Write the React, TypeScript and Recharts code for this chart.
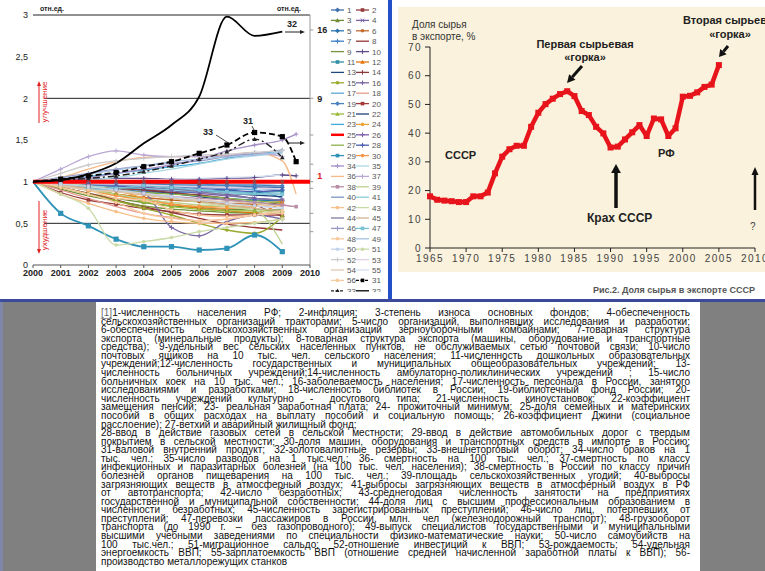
import React from "react";
import { LineChart, Line, XAxis, YAxis, ReferenceLine } from "recharts";

// ── Left chart: indicators, 2000 = 1 (отн. ед.) ─────────────────────

const leftYears = [2000, 2001, 2002, 2003, 2004, 2005, 2006, 2007, 2008, 2009, 2009.5, 2010];
const leftTickYears = [2000, 2001, 2002, 2003, 2004, 2005, 2006, 2007, 2008, 2009, 2010];
const leftTicks = [0, 0.5, 1, 1.5, 2, 2.5, 3];
const rightTicks = [0.4, 0.62, 0.92, 1, 1.21, 1.56, 2, 2.82];
const rightTickLabels: Record<string, string> = { "1": "1", "2": "9", "2.82": "16" };

const s01 = [1, 0.99, 0.98, 0.98, 0.97, 0.96, 0.95, 0.95, 0.94, 0.93];
const s02 = [1, 0.87, 0.78, 0.73, 0.68, 0.64, 0.61, 0.6, 0.6, 0.6];
const s03 = [1, 0.93, 0.86, 0.8, 0.75, 0.71, 0.69, 0.67, 0.66, 0.66];
const s04 = [1, 0.98, 0.96, 0.94, 0.91, 0.89, 0.86, 0.83, 0.8, 0.78];
const s05 = [1, 0.97, 0.94, 0.91, 0.88, 0.86, 0.83, 0.8, 0.78, 0.77];
const s06 = [1, 0.95, 0.9, 0.85, 0.81, 0.78, 0.76, 0.74, 0.73, 0.75];
const s07 = [1, 0.96, 0.93, 0.9, 0.88, 0.87, 0.88, 0.9, 0.92, 0.9];
const s08 = [1, 0.93, 0.86, 0.78, 0.7, 0.63, 0.56, 0.49, 0.45, 0.42];
const s09 = [1, 0.91, 0.83, 0.77, 0.71, 0.67, 0.65, 0.63, 0.62, 0.62];
const s10 = [1, 1.02, 1.03, 1.04, 1.04, 1.03, 1.03, 1.04, 1.05, 1.08, 1.07];
const s11 = [1, 0.97, 0.95, 0.94, 0.93, 0.91, 0.9, 0.88, 0.87, 0.88];
const s12 = [1, 0.95, 0.9, 0.85, 0.8, 0.73, 0.68, 0.65, 0.63, 0.75];
const s13 = [1, 0.98, 0.96, 0.93, 0.9, 0.86, 0.82, 0.78, 0.75, 0.72];
const s14 = [1, 0.97, 0.95, 0.92, 0.9, 0.87, 0.84, 0.8, 0.72, 0.58];
const s15 = [1, 0.93, 0.85, 0.77, 0.68, 0.6, 0.5, 0.42, 0.38, 0.58];
const s16 = [1, 0.97, 0.95, 0.9, 0.86, 0.45, 0.35, 0.52, 0.6, 0.55];
const s17 = [1, 0.99, 0.98, 0.97, 0.96, 0.95, 0.94, 0.92, 0.9, 0.8];
const s18 = [1, 0.9, 0.8, 0.7, 0.62, 0.57, 0.53, 0.55, 0.6, 0.64];
const s19 = [1, 1, 0.99, 0.98, 0.98, 0.97, 0.97, 0.96, 0.96, 0.95];
const s20 = [1, 0.99, 0.99, 1, 1, 0.99, 0.98, 0.99, 1, 1];
const s21 = [1, 0.95, 0.91, 0.85, 0.76, 0.7, 0.67, 0.65, 0.65, 0.65];
const s22 = [1, 0.98, 0.96, 0.94, 0.92, 0.9, 0.88, 0.86, 0.84, 0.82];
const s23 = [1, 1.02, 1.06, 1.1, 1.14, 1.18, 1.22, 1.28, 1.33, 1.37];
const s24 = [1, 0.98, 0.95, 0.9, 0.8, 0.73, 0.7, 0.7, 0.72, 0.77];
const s25 = [1, 1, 1, 1, 1, 1, 1, 1, 1, 1, 1, 1];
const s26 = [1, 0.98, 0.97, 0.95, 0.93, 0.9, 0.88, 0.85, 0.8, 0.78];
const s27 = [1, 0.97, 0.94, 0.9, 0.87, 0.85, 0.83, 0.8, 0.77, 0.75];
const s28 = [1, 0.98, 0.96, 0.95, 0.95, 0.94, 0.92, 0.9, 0.88, 0.9];
const s29 = [1, 0.62, 0.47, 0.31, 0.22, 0.22, 0.18, 0.2, 0.36, 0.16];
const s30 = [1, 0.97, 0.9, 0.83, 0.78, 0.73, 0.7, 0.68, 0.7, 0.72];
const s31 = [1, 1.03, 1.07, 1.11, 1.18, 1.24, 1.34, 1.44, 1.59, 1.54, 1.24];
const s32 = [1, 1.02, 1.09, 1.22, 1.46, 1.68, 2.02, 2.98, 2.75, 2.8];
const s33 = [1, 1.02, 1.04, 1.07, 1.12, 1.19, 1.27, 1.36, 1.51, 1.29];
const s34 = [1, 1.02, 1.05, 1.1, 1.15, 1.2, 1.27, 1.37, 1.44, 1.5, 1.57];
const s35 = [1, 1, 1.02, 1.05, 1.1, 1.15, 1.21, 1.27, 1.31, 1.34];
const s36 = [1, 1.05, 1.15, 1.24, 1.29, 1.3, 1.3, 1.32, 1.35, 1.25, 0.85];
const s37 = [1, 1.15, 1.3, 1.37, 1.32, 1.3, 1.3, 1.31, 1.35, 1.3];
const s38 = [1, 0.98, 0.95, 0.9, 0.86, 0.82, 0.8, 0.78, 0.75, 0.72, 0.7];
const s39 = [1, 0.96, 0.9, 0.85, 0.79, 0.75, 0.72, 0.7, 0.66, 0.25];
const s40 = [1, 0.98, 0.97, 0.96, 0.95, 0.94, 0.93, 0.92, 0.93, 0.95];
const s41 = [1, 0.97, 0.95, 0.93, 0.92, 0.9, 0.88, 0.86, 0.85, 0.85];
const s42 = [1, 0.85, 0.74, 0.64, 0.56, 0.52, 0.5, 0.5, 0.51, 0.55];
const s43 = [1, 0.98, 0.95, 0.9, 0.85, 0.8, 0.75, 0.7, 0.66, 0.62];
const s44 = [1, 1, 0.99, 0.98, 0.96, 0.92, 0.88, 0.84, 0.8, 0.78];
const s45 = [1, 0.96, 0.92, 0.88, 0.84, 0.8, 0.76, 0.72, 0.68, 0.65];
const s46 = [1, 1.05, 1.1, 1.15, 1.19, 1.22, 1.25, 1.3, 1.34, 1.38];
const s47 = [1, 0.95, 0.91, 0.92, 0.95, 0.93, 0.9, 0.88, 0.86, 0.85];
const s48 = [1, 0.95, 0.9, 0.8, 0.78, 0.66, 0.6, 0.58, 0.6, 0.62];
const s49 = [1, 1.04, 1.09, 1.14, 1.19, 1.24, 1.27, 1.3, 1.32, 1.35];
const s50 = [1, 0.97, 0.94, 0.9, 0.86, 0.82, 0.78, 0.74, 0.71, 0.68];
const s51 = [1, 0.85, 0.68, 0.24, 0.28, 0.33, 0.4, 0.45, 0.5, 0.55];
const s52 = [1, 1.1, 1.2, 1.25, 1.28, 1.3, 1.32, 1.33, 1.35, 1.37];
const s53 = [1, 0.99, 0.98, 0.97, 0.96, 0.95, 0.94, 0.93, 0.92, 0.91];
const s54 = [1, 0.95, 0.9, 0.88, 0.85, 0.8, 0.78, 0.76, 0.74, 0.7];
const s55 = [1, 1, 1, 1.01, 1.02, 1.03, 1.04, 1.05, 1.06, 1.08];
const s56 = [1, 0.93, 0.85, 0.75, 0.62, 0.56, 0.53, 0.55, 0.6, 0.65];

const seriesValues: Record<number, number[]> = {
  1: s01, 2: s02, 3: s03, 4: s04, 5: s05, 6: s06, 7: s07, 8: s08, 9: s09, 10: s10,
  11: s11, 12: s12, 13: s13, 14: s14, 15: s15, 16: s16, 17: s17, 18: s18, 19: s19, 20: s20,
  21: s21, 22: s22, 23: s23, 24: s24, 25: s25, 26: s26, 27: s27, 28: s28, 29: s29, 30: s30,
  31: s31, 32: s32, 33: s33, 34: s34, 35: s35, 36: s36, 37: s37, 38: s38, 39: s39, 40: s40,
  41: s41, 42: s42, 43: s43, 44: s44, 45: s45, 46: s46, 47: s47, 48: s48, 49: s49, 50: s50,
  51: s51, 52: s52, 53: s53, 54: s54, 55: s55, 56: s56,
};

const legendRows = [
  [1, 2], [3, 4], [5, 6], [7, 8], [9, 10], [11, 12], [13, 14], [15, 16], [17, 18], [19, 20],
  [21, 22], [23, 24], [25, 26], [27, 28], [29, 30], [34, 35], [36, 37], [38, 39], [40, 41],
  [42, 43], [44, 45], [46, 47], [48, 49], [50, 51], [52, 53], [54, 55], [56, 31], [33, 32],
];

// ── Right chart: share of raw materials in exports, % ────────────────

const rawYears = [
  1965, 1966, 1967, 1968, 1969, 1970, 1971, 1972, 1973, 1974, 1975, 1976, 1977, 1978,
  1979, 1980, 1981, 1982, 1983, 1984, 1985, 1986, 1987, 1988, 1989, 1990, 1991, 1992,
  1993, 1994, 1995, 1996, 1997, 1998, 1999, 2000, 2001, 2002, 2003, 2004, 2005,
];
const rawShare = [
  18, 16.8, 16.5, 16.3, 16, 16, 18, 18, 19.3, 26, 31.8, 34.4, 35.6, 35.6,
  42.2, 47.1, 50.1, 52, 53.6, 54.6, 52.9, 47.7, 46.3, 42.2, 39.9, 35, 35.3, 37.8,
  40.3, 42.8, 39, 45.1, 44.8, 39, 41.7, 52.7, 53, 54.2, 56.1, 56.9, 63.7,
];
const rawXTicks = [1965, 1970, 1975, 1980, 1985, 1990, 1995, 2000, 2005, 2010];
const rawYTicks = [0, 10, 20, 30, 40, 50, 60, 70];

const footnoteLines = [
  "1-численность населения РФ; 2-инфляция; 3-степень износа основных фондов; 4-обеспеченность",
  "сельскохозяйственных организаций тракторами; 5-число организаций, выполнявших исследования и разработки;",
  "6-обеспеченность сельскохозяйственных организаций зерноуборочными комбайнами; 7-товарная структура",
  "экспорта (минеральные продукты); 8-товарная структура экспорта (машины, оборудование и транспортные",
  "средства); 9-удельный вес сельских населенных пунктов, не обслуживаемых сетью почтовой связи; 10-число",
  "почтовых ящиков на 10 тыс. чел. сельского населения; 11-численность дошкольных образовательных",
  "учреждений;12-численность государственных и муниципальных общеобразовательных учреждений; 13-",
  "численность больничных учреждений;14-численность амбулаторно-поликлинических учреждений ; 15-число",
  "больничных коек на 10 тыс. чел.; 16-заболеваемость населения; 17-численность персонала в России, занятого",
  "исследованиями и разработками; 18-численность библиотек в России; 19-библиотечный фонд России; 20-",
  "численность учреждений культурно - досугового типа; 21-численность киноустановок; 22-коэффициент",
  "замещения пенсий; 23- реальная заработная плата; 24- прожиточный минимум; 25-доля семейных и материнских",
  "пособий в общих расходах на выплату пособий и социальную помощь; 26-коэффициент Джини (социальное",
  "расслоение); 27-ветхий и аварийный жилищный фонд;",
  "28-ввод в действие газовых сетей в сельской местности; 29-ввод в действие автомобильных дорог с твердым",
  "покрытием в сельской местности; 30-доля машин, оборудования и транспортных средств в импорте в Россию;",
  "31-валовой внутренний продукт; 32-золотовалютные резервы; 33-внешнеторговый оборот; 34-число браков на 1",
  "тыс. чел.; 35-число разводов на 1 тыс.чел.; 36- смертность на 100 тыс. чел.; 37-смертность по классу",
  "инфекционных и паразитарных болезней (на 100 тыс. чел. населения); 38-смертность в России по классу причин",
  "болезней органов пищеварения на 100 тыс. чел.; 39-площадь сельскохозяйственных угодий; 40-выбросы",
  "загрязняющих веществ в атмосферный воздух; 41-выбросы загрязняющих веществ в атмосферный воздух в РФ",
  "от автотранспорта; 42-число безработных; 43-среднегодовая численность занятости на предприятиях",
  "государственной и муниципальной собственности; 44-доля лиц с высшим профессиональным образованием в",
  "численности безработных; 45-численность зарегистрированных преступлений; 46-число лиц, потерпевших от",
  "преступлений; 47-перевозки пассажиров в России, млн. чел (железнодорожный транспорт); 48-грузооборот",
  "транспорта (до 1990 г. – без газопроводного); 49-выпуск специалистов государственными и муниципальными",
  "высшими учебными заведениями по специальности физико-математические науки; 50-число самоубийств на",
  "100 тыс.чел.; 51-миграционное сальдо; 52-отношение инвестиций к ВВП; 53-рождаемость; 54-удельная",
  "энергоемкость ВВП; 55-зарплатоемкость ВВП (отношение средней начисленной заработной платы к ВВП); 56-",
  "производство металлорежущих станков",
];
const shortLines = [13, 29];

// ── Styles ───────────────────────────────────────────────────────────

type Mark = "sq" | "dia" | "tri" | "circ" | "x" | "plus" | undefined;

const seriesStyle: Record<number, { color: string; mark?: Mark; width?: number; dash?: string }> = {
  1: { color: "#3f6faa", mark: "dia" }, 2: { color: "#963c3c", mark: "sq" },
  3: { color: "#6e8a35", mark: "tri" }, 4: { color: "#7a62a6", mark: "x" },
  5: { color: "#2b74b0", mark: "dia" }, 6: { color: "#c06a2b", mark: "circ" },
  7: { color: "#3d7fc4", mark: "plus" }, 8: { color: "#943634" },
  9: { color: "#77933c" }, 10: { color: "#5f4a8b", mark: "plus" },
  11: { color: "#2f8fa3", mark: "sq" }, 12: { color: "#e4760f", mark: "tri" },
  13: { color: "#1f497d" }, 14: { color: "#8b3a3a", mark: "plus" },
  15: { color: "#9aa82b", mark: "circ" }, 16: { color: "#7b68a6", mark: "plus" },
  17: { color: "#5aa7d3" }, 18: { color: "#e59a8e" },
  19: { color: "#4a7fbf", mark: "dia" }, 20: { color: "#a33a3a", mark: "sq" },
  21: { color: "#9bbb3a", mark: "tri" }, 22: { color: "#203f79" },
  23: { color: "#3fa9d9" }, 24: { color: "#eea33a", mark: "circ" },
  25: { color: "#ff0000", width: 4 }, 26: { color: "#7d5da8", mark: "plus" },
  27: { color: "#8db04a" }, 28: { color: "#4b5db3", mark: "plus" },
  29: { color: "#2f93b8", mark: "sq", width: 1.8 }, 30: { color: "#f79646", mark: "circ" },
  31: { color: "#000000", mark: "sq", width: 1.8, dash: "6 3" },
  32: { color: "#000000", width: 1.8 },
  33: { color: "#222222", mark: "tri", width: 1.4, dash: "7 3 2 3" },
  34: { color: "#a58fc7", mark: "plus" }, 35: { color: "#a9d8e3" },
  36: { color: "#f5b98a" }, 37: { color: "#b9a8d3", mark: "plus" },
  38: { color: "#b98ea6", mark: "sq" }, 39: { color: "#bcd08f" },
  40: { color: "#7c95c4" }, 41: { color: "#8ccbd8" },
  42: { color: "#f7c08a", mark: "circ" }, 43: { color: "#c9dba5" },
  44: { color: "#7f7aa3" }, 45: { color: "#d0b48f" },
  46: { color: "#9999c4", mark: "plus" }, 47: { color: "#7ac3d6", mark: "sq" },
  48: { color: "#f9c79b", mark: "circ" }, 49: { color: "#a7c1e3" },
  50: { color: "#c3d3ea", mark: "circ" }, 51: { color: "#cadba8", mark: "circ" },
  52: { color: "#cccccc", mark: "plus" }, 53: { color: "#dcd3e6" },
  54: { color: "#e0c9b3" }, 55: { color: "#d3e0f0" },
  56: { color: "#f7caa0", mark: "circ" },
};

const FONT = "'Liberation Sans', Arial, sans-serif";

const leftRows = leftYears.map((year, i) => {
  const row: Record<string, number | null> = { year };
  Object.keys(seriesValues).forEach((id) => {
    const v = seriesValues[Number(id)][i];
    row[`s${id}`] = v === undefined ? null : v;
  });
  return row;
});

const rawRows = rawYears.map((year, i) => ({ year, share: rawShare[i] }));

const drawOrder = [
  ...Object.keys(seriesValues).map(Number).filter((id) => ![25, 31, 32, 33].includes(id)),
  25, 33, 31, 32,
];

// ── Markers ──────────────────────────────────────────────────────────

function MarkShape({ kind, x, y, color, s = 1.8 }: { kind: Mark; x: number; y: number; color: string; s?: number }) {
  switch (kind) {
    case "sq":
      return <rect x={x - s} y={y - s} width={2 * s} height={2 * s} fill={color} />;
    case "dia":
      return <path d={`M${x},${y - s - 0.6}L${x + s + 0.6},${y}L${x},${y + s + 0.6}L${x - s - 0.6},${y}Z`} fill={color} />;
    case "tri":
      return <path d={`M${x},${y - s - 0.5}L${x + s + 0.5},${y + s}L${x - s - 0.5},${y + s}Z`} fill={color} />;
    case "circ":
      return <circle cx={x} cy={y} r={s} fill={color} />;
    case "x":
      return <path d={`M${x - s},${y - s}L${x + s},${y + s}M${x - s},${y + s}L${x + s},${y - s}`} stroke={color} strokeWidth={1} />;
    case "plus":
      return <path d={`M${x - s - 0.5},${y}L${x + s + 0.5},${y}M${x},${y - s - 0.5}L${x},${y + s + 0.5}`} stroke={color} strokeWidth={1} />;
    default:
      return null;
  }
}

function LegendItem({ id, x, y }: { id: number; x: number; y: number }) {
  const st = seriesStyle[id];
  return (
    <g>
      <line x1={x} y1={y} x2={x + 13} y2={y} stroke={st.color} strokeWidth={id === 25 ? 2.5 : 1.3} strokeDasharray={st.dash ? "3 1.5" : undefined} />
      <MarkShape kind={st.mark} x={x + 6.5} y={y} color={st.color} s={1.8} />
      <text x={x + 16} y={y + 3} fontSize={8} fill="#555" fontFamily={FONT}>{id}</text>
    </g>
  );
}

// ── Arrows for annotations ───────────────────────────────────────────

function FatArrow({ x1, y1, x2, y2, w = 3, head = 9 }: { x1: number; y1: number; x2: number; y2: number; w?: number; head?: number }) {
  const dx = x2 - x1;
  const dy = y2 - y1;
  const len = Math.hypot(dx, dy);
  const ux = dx / len;
  const uy = dy / len;
  const px = -uy;
  const py = ux;
  const bx = x2 - ux * head;
  const by = y2 - uy * head;
  const hw = w * 1.4;
  return (
    <g>
      <line x1={x1} y1={y1} x2={bx} y2={by} stroke="#111" strokeWidth={w} />
      <path d={`M${x2},${y2}L${bx + px * hw},${by + py * hw}L${bx - px * hw},${by - py * hw}Z`} fill="#111" />
    </g>
  );
}

// ── Component ────────────────────────────────────────────────────────

export default function App() {
  return (
    <div
      style={{
        position: "fixed",
        left: 0,
        top: 0,
        width: 765,
        height: 571,
        overflow: "hidden",
        background: "#ffffff",
        fontFamily: FONT,
      }}
    >
      {/* left chart */}
      <div style={{ position: "absolute", left: 0, top: 0 }}>
        <LineChart width={330} height={290} data={leftRows} margin={{ top: 15, right: 20, bottom: 5, left: 8 }}>
          <XAxis
            dataKey="year"
            type="number"
            domain={[2000, 2010]}
            ticks={leftTickYears}
            interval={0}
            height={20}
            stroke="#555"
            tickSize={3}
            tickMargin={2}
            tick={{ fontSize: 9, fill: "#222", fontWeight: 700, fontFamily: FONT }}
          />
          <YAxis
            yAxisId="l"
            type="number"
            domain={[0, 3]}
            ticks={leftTicks}
            interval={0}
            width={25}
            axisLine={false}
            tickLine={false}
            tickSize={3}
            tickMargin={2}
            tickFormatter={(v: number) => (v === 3 ? "" : String(v).replace(".", ","))}
            tick={{ fontSize: 9, fill: "#222", fontFamily: FONT }}
          />
          <ReferenceLine yAxisId="l" y={3} stroke="#222" strokeWidth={1} />
          <ReferenceLine yAxisId="l" segment={[{ x: 2000.4, y: 2 }, { x: 2010, y: 2 }]} stroke="#222" strokeWidth={1} />
          <ReferenceLine yAxisId="l" segment={[{ x: 2000.4, y: 0.5 }, { x: 2010, y: 0.5 }]} stroke="#222" strokeWidth={1} />
          {/* secondary (right) scale drawn on the 2010 edge */}
          <ReferenceLine yAxisId="l" x={2010} stroke="#999" strokeWidth={1} />
          {rightTicks.map((v) => (
            <ReferenceLine
              key={`rt${v}`}
              yAxisId="l"
              segment={[{ x: 2010, y: v }, { x: 2010.12, y: v }]}
              ifOverflow="visible"
              stroke="#999"
              strokeWidth={1}
              label={
                rightTickLabels[String(v)]
                  ? {
                      value: rightTickLabels[String(v)],
                      position: "right",
                      offset: 4,
                      dy: v === 1 ? -6 : 0,
                      fontSize: 9,
                      fontWeight: 700,
                      fill: v === 1 ? "#e02020" : "#222",
                      fontFamily: FONT,
                    }
                  : undefined
              }
            />
          ))}
          {drawOrder.map((id) => {
            const st = seriesStyle[id];
            return (
              <Line
                key={id}
                yAxisId="l"
                dataKey={`s${id}`}
                type={id === 25 ? "linear" : "monotone"}
                stroke={st.color}
                strokeWidth={st.width ?? 1.3}
                strokeDasharray={st.dash}
                isAnimationActive={false}
                connectNulls={false}
                dot={
                  st.mark
                    ? (p: any) =>
                        p.value == null || p.cx == null || p.index === 0 ? (
                          <g key={`d${id}-${p.index}`} />
                        ) : (
                          <g key={`d${id}-${p.index}`}>
                            <MarkShape kind={st.mark} x={p.cx} y={p.cy} color={st.color} s={id === 29 || id === 31 ? 2.6 : 1.8} />
                          </g>
                        )
                    : false
                }
                activeDot={false}
              />
            );
          })}
        </LineChart>
      </div>

      {/* left chart legend */}
      <svg style={{ position: "absolute", left: 0, top: 0 }} width={388} height={292}>
        {legendRows.map((pair, r) => (
          <g key={r}>
            <LegendItem id={pair[0]} x={331} y={10 + r * 10.4} />
            <LegendItem id={pair[1]} x={356} y={10 + r * 10.4} />
          </g>
        ))}
      </svg>

      {/* right chart panel */}
      <div style={{ position: "absolute", left: 398, top: 7, width: 367, height: 265, background: "#faf2dc" }}>
        <LineChart width={367} height={265} data={rawRows} margin={{ top: 40, right: 10, bottom: 0, left: 0 }}>
          <XAxis
            dataKey="year"
            type="number"
            domain={[1965, 2010]}
            ticks={rawXTicks}
            interval={0}
            height={24}
            stroke="#222"
            tickSize={4}
            tickMargin={3}
            tick={{ fontSize: 10, fill: "#444", letterSpacing: 1.5, fontFamily: FONT }}
          />
          <YAxis
            domain={[0, 70]}
            ticks={rawYTicks}
            interval={0}
            width={32}
            stroke="#222"
            tickSize={5}
            tickMargin={3}
            tick={{ fontSize: 10, fill: "#444", letterSpacing: 1.5, fontFamily: FONT }}
          />
          <Line
            dataKey="share"
            type="linear"
            stroke="#e8141c"
            strokeWidth={4.5}
            strokeLinejoin="round"
            isAnimationActive={false}
            dot={(p: any) => (
              <rect key={`r${p.index}`} x={p.cx - 3} y={p.cy - 3} width={6} height={6} fill="#e8141c" />
            )}
            activeDot={false}
          />
        </LineChart>
      </div>

      {/* annotations, frames */}
      <svg style={{ position: "absolute", left: 0, top: 0 }} width={765} height={571}>
        {/* left chart labels */}
        <text x={28} y={18} textAnchor="end" fontSize={9} fill="#222" fontFamily={FONT}>3</text>
        <text x={40} y={11} fontSize={7} fontWeight={700} fill="#222" fontFamily={FONT}>отн.ед.</text>
        <text x={277} y={11} fontSize={7} fontWeight={700} fill="#222" fontFamily={FONT}>отн.ед.</text>
        <line x1={39} y1={84} x2={39} y2={123} stroke="#e02020" strokeWidth={1} />
        <path d="M39,81L37,86L41,86Z" fill="#e02020" />
        <text transform="translate(47,102) rotate(-90)" textAnchor="middle" fontSize={8} fill="#e02020" fontFamily={FONT}>улучшение</text>
        <line x1={39} y1={201} x2={39} y2={251} stroke="#e02020" strokeWidth={1} />
        <path d="M39,254L37,249L41,249Z" fill="#e02020" />
        <text transform="translate(47,230) rotate(-90)" textAnchor="middle" fontSize={8} fill="#e02020" fontFamily={FONT}>ухудшение</text>
        <text x={287} y={27} fontSize={9} fontWeight={700} fill="#222" fontFamily={FONT}>32</text>
        <line x1={285} y1={32} x2={302} y2={32} stroke="#222" strokeWidth={1} />
        <path d="M305,32L300,30L300,34Z" fill="#222" />
        <text x={243} y={124} fontSize={9} fontWeight={700} fill="#222" fontFamily={FONT}>31</text>
        <line x1={252} y1={126} x2={255} y2={132} stroke="#222" strokeWidth={0.8} />
        <text x={203} y={135} fontSize={9} fontWeight={700} fill="#222" fontFamily={FONT}>33</text>
        <line x1={216} y1={135} x2={230} y2={144} stroke="#222" strokeWidth={0.8} />
        <line x1={289} y1={143} x2={302} y2={143} stroke="#222" strokeWidth={1} />
        <path d="M305,143L300,141L300,145Z" fill="#222" />

        {/* frame lines */}
        <rect x={388} y={0} width={4} height={299} fill="#2350c8" />

        {/* right chart labels */}
        <text x={412} y={28} fontSize={10} fill="#333" fontFamily={FONT}>Доля сырья</text>
        <text x={412} y={40} fontSize={10} fill="#333" fontFamily={FONT}>в экспорте, %</text>
        <text x={585} y={48} textAnchor="middle" fontSize={11} fontWeight={700} fill="#222" fontFamily={FONT}>Первая сырьевая</text>
        <text x={585} y={61} textAnchor="middle" fontSize={11} fontWeight={700} fill="#222" fontFamily={FONT}>«горка»</text>
        <FatArrow x1={582} y1={66} x2={567} y2={83} w={3} head={8} />
        <text x={683} y={24} fontSize={11} fontWeight={700} fill="#222" fontFamily={FONT}>Вторая сырьевая</text>
        <text x={730} y={38} textAnchor="middle" fontSize={11} fontWeight={700} fill="#222" fontFamily={FONT}>«горка»</text>
        <FatArrow x1={728} y1={46} x2={719} y2={57} w={3} head={7} />
        <text x={445} y={159} fontSize={11} fontWeight={700} fill="#222" fontFamily={FONT}>СССР</text>
        <text x={658} y={157} fontSize={11} fontWeight={700} fill="#222" fontFamily={FONT}>РФ</text>
        <text x={587} y={222} fontSize={12} fontWeight={700} fill="#222" fontFamily={FONT}>Крах СССР</text>
        <FatArrow x1={616} y1={208} x2={616} y2={164} w={3.5} head={9} />
        <text x={750} y={230} fontSize={10} fill="#444" fontFamily={FONT}>?</text>
        <FatArrow x1={755} y1={210} x2={755} y2={167} w={2.5} head={8} />
        <text x={593} y={293} fontSize={9} fontWeight={700} fill="#555" fontFamily={FONT}>
          Рис.2. Доля сырья в экспорте СССР
        </text>

        {/* bottom section */}
        <rect x={0} y={299} width={765} height={3} fill="#3c4a9c" />
        <rect x={0} y={302} width={765} height={269} fill="#808080" />
        <rect x={0} y={302} width={3} height={269} fill="#7f86a8" />
        <rect x={96} y={302} width={604} height={269} fill="#ffffff" />
      </svg>

      {/* footnote text */}
      <div style={{ position: "absolute", left: 101, top: 309, width: 589, color: "#111", fontSize: 10, lineHeight: "8.59px" }}>
        {footnoteLines.map((line, i) => (
          <div
            key={i}
            style={{
              height: 8.59,
              whiteSpace: "nowrap",
              textAlign: shortLines.includes(i) ? "left" : "justify",
              textAlignLast: shortLines.includes(i) ? "left" : "justify",
            }}
          >
            {i === 0 ? <span style={{ color: "#666", borderBottom: "1px solid #999" }}>[1]</span> : null}
            {line}
          </div>
        ))}
      </div>
    </div>
  );
}
